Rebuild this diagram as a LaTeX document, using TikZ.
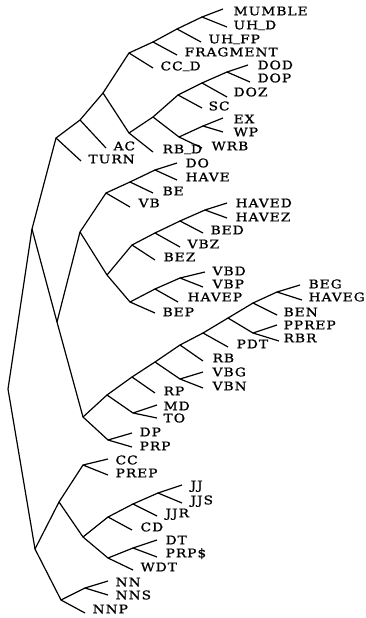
\documentclass[tikz,border=0pt]{standalone}
\usepackage{fontspec}
\setmainfont{DejaVu Serif}[LetterSpace=8,FakeStretch=1.15,FakeBold=1]
\newcommand\lowbar{\raisebox{2pt}{\_}}
\begin{document}
\begin{tikzpicture}[x=1pt,y=-1pt,line width=1.2pt,line join=round,
  lbl/.style={anchor=west,inner sep=0pt,text height=8.7pt,text depth=0pt,font=\fontsize{12}{14}\selectfont}]
\useasboundingbox (0,0) rectangle (366,618);
% internal nodes
\foreach \n/\x/\y in {R/8/389,E/32/229,D/56/138,C/80/120,B/103/93,A4/129/53,A3/153/42,A2/177/29,A1/202/17,
  H/129/133,F4/153/117,F3/178/95,F2/202/83,F1/227/72,G1/179/137,G2/203/126,
  N/57/322,J/80/232,I3/106/193,I2/130/182,I1/155/170,K/107/275,L/132/245,L2/155/233,L3/180/221,L4/205/210,
  M/130/302,M2/155/289,M3/180/278,O/83/417,T/107/395,Tm/133/413,U/108/440,T2/132/377,T3/155/362,Tv/180/379,
  T4/180/345,T5/203/333,T6/228/318,Tp/253/333,T7/253/303,T8/277/292,
  P/35/549,Q/59/502,V/83/465,W/83/537,W2/108/517,W3/133/504,W4/158/493,X/108/558,X2/133/548,S/61/600,S2/85/588}
  {\coordinate (\n) at (\x,\y);}
% leaves: name / end x / end y / label x / label y / text
\foreach \n/\x/\y/\lx/\ly/\t in {
  MUMBLE/223/9/233/11/MUMBLE, UHD/227/27/233/25/UH\lowbar D, UHFP/201/42/208/39/UH\lowbar FP, FRAGMENT/177/55/184/52/FRAGMENT,
  CCD/153/68/160/66/CC\lowbar D, DOD/248/65/257/65/DOD, DOP/250/82/257/78/DOP, DOZ/227/97/233/92/DOZ, SC/202/108/208/106/SC,
  EX/223/118/233/119/EX, WP/223/132/233/132/WP, WRB/202/148/211/146/WRB, RBD/153/152/162/149/RB\lowbar D,
  AC/106/148/113/146/AC, TURN/81/161/88/159/TURN, DO/177/163/185/163/DO, HAVE/177/180/185/177/HAVE,
  BE/153/193/162/191/BE, VB/130/207/138/203/VB, HAVED/227/203/235/203/HAVED, HAVEZ/227/218/235/217/HAVEZ,
  BED/203/233/210/230/BED, VBZ/180/247/187/244/VBZ, BEZ/155/260/163/257/BEZ, VBD/205/272/212/271/VBD,
  VBP/203/287/212/284/VBP, HAVEP/178/302/187/297/HAVEP, BEP/155/313/162/312/BEP, BEG/300/285/308/284/BEG,
  HAVEG/302/300/308/297/HAVEG, BEN/277/315/283/312/BEN, PPREP/277/325/283/325/PPREP, RBR/279/341/283/338/RBR,
  PDT/228/347/236/344/PDT, RB/203/361/212/358/RB, VBG/203/372/212/372/VBG, VBN/203/388/212/386/VBN,
  RP/155/393/163/391/RP, MD/157/405/163/406/MD, TO/157/418/163/418/TO, DP/132/433/139/432/DP, PRP/132/447/139/446/PRP,
  CC/108/459/115/460/CC, PREP/108/475/115/473/PREP, JJ/182/485/190/485/JJ, JJS/182/503/190/500/JJS,
  JJR/157/516/165/513/JJR, CD/132/530/140/527/CD, DT/157/540/165/540/DT, PRPS/157/557/165/553/PRP\$,
  WDT/133/570/140/567/WDT, NN/108/581/115/582/NN, NNS/108/595/115/595/NNS, NNP/85/613/92/609/NNP}
  {\coordinate (\n) at (\x,\y); \node[lbl] (t\n) at (\lx,\ly) {\t};}
% branches
\foreach \p/\a/\b in {R/E/P,E/D/N,D/C/TURN,C/B/AC,B/A4/H,A4/A3/CCD,A3/A2/FRAGMENT,A2/A1/UHFP,A1/MUMBLE/UHD,
  H/F4/RBD,F4/F3/G1,F3/F2/SC,F2/F1/DOZ,F1/DOD/DOP,G1/G2/WRB,G2/EX/WP,
  N/J/O,J/I3/K,I3/I2/VB,I2/I1/BE,I1/DO/HAVE,K/L/M,L/L2/BEZ,L2/L3/VBZ,L3/L4/BED,L4/HAVED/HAVEZ,
  M/M2/BEP,M2/M3/HAVEP,M3/VBD/VBP,O/T/U,T/T2/Tm,Tm/MD/TO,U/DP/PRP,T2/T3/RP,T3/T4/Tv,Tv/VBG/VBN,
  T4/T5/RB,T5/T6/PDT,T6/T7/Tp,Tp/PPREP/RBR,T7/T8/BEN,T8/BEG/HAVEG,
  P/Q/S,Q/V/W,V/CC/PREP,W/W2/X,W2/W3/CD,W3/W4/JJR,W4/JJ/JJS,X/X2/WDT,X2/DT/PRPS,S/S2/NNP,S2/NN/NNS}
  {\draw (\a) -- (\p) -- (\b);}
\end{tikzpicture}
\end{document}
